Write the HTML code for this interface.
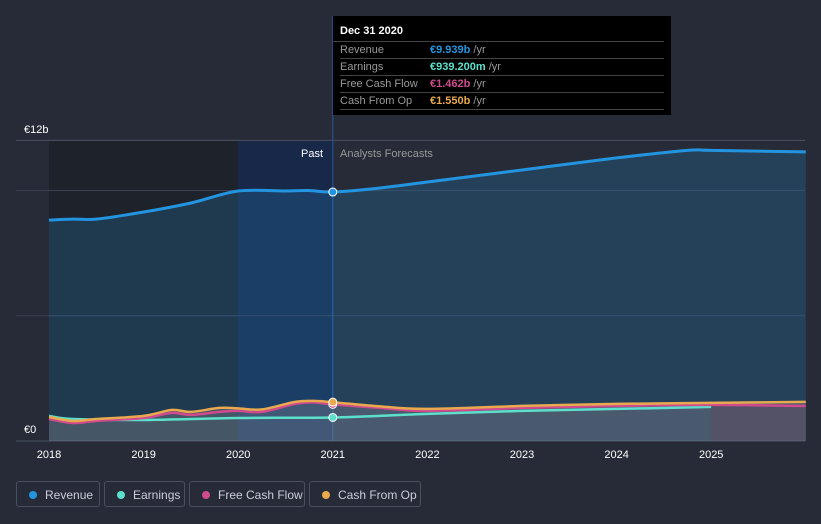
<!DOCTYPE html>
<html><head><meta charset="utf-8"><style>
body{margin:0;background:#262b37;font-family:"Liberation Sans",sans-serif;}
#wrap{position:relative;width:821px;height:524px;overflow:hidden;}
svg{position:absolute;left:0;top:0}
.tt{position:absolute;left:333px;top:16px;width:338px;height:99px;background:#000;color:#fff;font-size:11px;}
.tt .h{font-weight:bold;padding:9px 0 0 7px;height:16px;border-bottom:1px solid #444;margin:0 7px 0 0;}
.tt .r{height:16px;line-height:16px;border-bottom:1px solid #444;margin-left:7px;margin-right:7px;color:#999;}
.tt .r span.l{display:inline-block;width:90px}
.tt .r b{font-weight:bold}
.leg{position:absolute;top:481px;height:26px;border:1px solid #4a5060;border-radius:3px;color:#ccd;font-size:12px;line-height:26px;box-sizing:border-box;padding-left:28px}
.leg i{position:absolute;left:12px;top:9px;width:8px;height:8px;border-radius:50%}
</style></head><body>
<div id="wrap">
<svg id="c" width="821" height="524"></svg>
<div class="tt">
<div class="h">Dec 31 2020</div>
<div class="r"><span class="l">Revenue</span><b style="color:#2394df">€9.939b</b> /yr</div>
<div class="r"><span class="l">Earnings</span><b style="color:#5ce0cc">€939.200m</b> /yr</div>
<div class="r"><span class="l">Free Cash Flow</span><b style="color:#d04a8e">€1.462b</b> /yr</div>
<div class="r"><span class="l">Cash From Op</span><b style="color:#e8a94f">€1.550b</b> /yr</div>
</div>
<div class="leg" style="left:16px;width:84px"><i style="background:#2394df"></i>Revenue</div>
<div class="leg" style="left:104px;width:81px"><i style="background:#5ce0cc"></i>Earnings</div>
<div class="leg" style="left:189px;width:116px"><i style="background:#d04a8e"></i>Free Cash Flow</div>
<div class="leg" style="left:309px;width:112px"><i style="background:#e8a94f"></i>Cash From Op</div>
</div>
<script>
const xTicks=[2018,2019,2020,2021,2022,2023,2024,2025];
const yTickLabels=['€0','€12b'];
const revX=[2018,2018.25,2018.5,2019,2019.5,2020,2020.5,2020.75,2021,2021.5,2022,2023,2024,2024.75,2025,2026];
const revY=[8.82,8.86,8.86,9.14,9.5,9.98,9.98,10.0,9.939,10.1,10.34,10.82,11.3,11.6,11.6,11.54];
const earnX=[2018,2018.25,2019,2020,2021,2022,2023,2024,2025];
const earnY=[1.0,0.88,0.84,0.92,0.939,1.08,1.2,1.28,1.36];
const fcfX=[2018,2018.25,2018.5,2019,2019.3,2019.5,2019.8,2020,2020.25,2020.6,2020.8,2021,2021.5,2022,2023,2024,2025,2026];
const fcfY=[0.88,0.72,0.8,0.92,1.12,1.04,1.16,1.2,1.16,1.48,1.54,1.462,1.32,1.2,1.32,1.4,1.44,1.4];
const cfoX=[2018,2018.25,2018.5,2019,2019.3,2019.5,2019.8,2020,2020.25,2020.6,2020.8,2021,2021.5,2022,2023,2024,2025,2026];
const cfoY=[0.96,0.8,0.88,1.0,1.24,1.16,1.32,1.3,1.26,1.56,1.6,1.55,1.38,1.28,1.4,1.48,1.52,1.56];
const X=v=>49+(v-2018)*94.6, Y=v=>441-v*25.05;
const s=document.getElementById('c'),NS='http://www.w3.org/2000/svg';
function el(t,a,n){const e=document.createElementNS(NS,t);for(const k in a)e.setAttribute(k,a[k]);
s.appendChild(e);return e;}
const x0=X(2018),xe=X(2026)-1,xn=X(2021);
el('rect',{x:x0,y:141,width:X(2020)-x0,height:300,fill:'#1e222b'},'past-region');
el('rect',{x:X(2020),y:141,width:xn-X(2020),height:300,fill:'#182848'},'past-highlight');
[0,5,10,12].forEach(v=>el('line',{x1:16,x2:805,y1:Y(v),y2:Y(v),stroke:v==12?'#4a5060':'#3a4050'},'gridline'));
el('line',{x1:16,x2:805,y1:441,y2:441,stroke:'#4a5060'},'x-axis');
el('line',{x1:xn,x2:xn,y1:16,y2:441,stroke:'#2a5aa0'},'cursor-line');
function path(xs,ys){
  const p=xs.map((v,i)=>[X(v),Y(ys[i])]);
  let d='M'+p[0][0].toFixed(1)+','+p[0][1].toFixed(1);
  for(let i=0;i<p.length-1;i++){
    const a=p[Math.max(0,i-1)],b=p[i],c=p[i+1],e=p[Math.min(p.length-1,i+2)];
    const c1=[b[0]+(c[0]-a[0])/6,b[1]+(c[1]-a[1])/6],c2=[c[0]-(e[0]-b[0])/6,c[1]-(e[1]-b[1])/6];
    d+='C'+c1[0].toFixed(1)+','+c1[1].toFixed(1)+' '+c2[0].toFixed(1)+','+c2[1].toFixed(1)+' '+c[0].toFixed(1)+','+c[1].toFixed(1);
  }
  return d;
}
function area(xs,ys,fill,n){el('path',{d:path(xs,ys)+'L'+X(xs[xs.length-1])+',441L'+X(xs[0])+',441Z',fill:fill},n);}
area(revX,revY,'rgba(35,148,223,0.2)','revenue-area');
area(cfoX,cfoY,'rgba(140,140,150,0.35)','cfo-area');
el('rect',{x:X(2025),y:Y(1.4),width:xe-X(2025),height:441-Y(1.4),fill:'rgba(120,60,80,0.25)'},'forecast-shade');
const ser=[[revX,revY,'#2394df','revenue-line'],[earnX,earnY,'#5ce0cc','earnings-line'],[fcfX,fcfY,'#d04a8e','fcf-line'],[cfoX,cfoY,'#e8a94f','cfo-line']];
ser.forEach(a=>el('path',{d:path(a[0],a[1]),fill:'none',stroke:a[2],'stroke-width':a[3]=='revenue-line'?3:2.5,'stroke-linejoin':'round'},a[3]));
ser.forEach(a=>{const i=a[0].indexOf(2021);el('circle',{cx:xn,cy:Y(a[1][i]),r:4,fill:a[2],stroke:'#fff','stroke-width':1},a[3].replace('line','marker'));});
xTicks.forEach(t=>{const e=el('text',{x:X(t),y:458,fill:'#fff','font-size':11,'text-anchor':'middle','font-family':'Liberation Sans'},'x-tick-label');e.textContent=t;});
[[yTickLabels[0],433],[yTickLabels[1],133]].forEach(a=>{const e=el('text',{x:24,y:a[1],fill:'#fff','font-size':11,'font-family':'Liberation Sans'},'y-tick-label');e.textContent=a[0];});
let e=el('text',{x:323,y:157,fill:'#fff','font-size':11,'text-anchor':'end','font-family':'Liberation Sans'},'past-label');e.textContent='Past';
e=el('text',{x:340,y:157,fill:'#999','font-size':11,'font-family':'Liberation Sans'},'forecast-label');e.textContent='Analysts Forecasts';
</script>
</body></html>
